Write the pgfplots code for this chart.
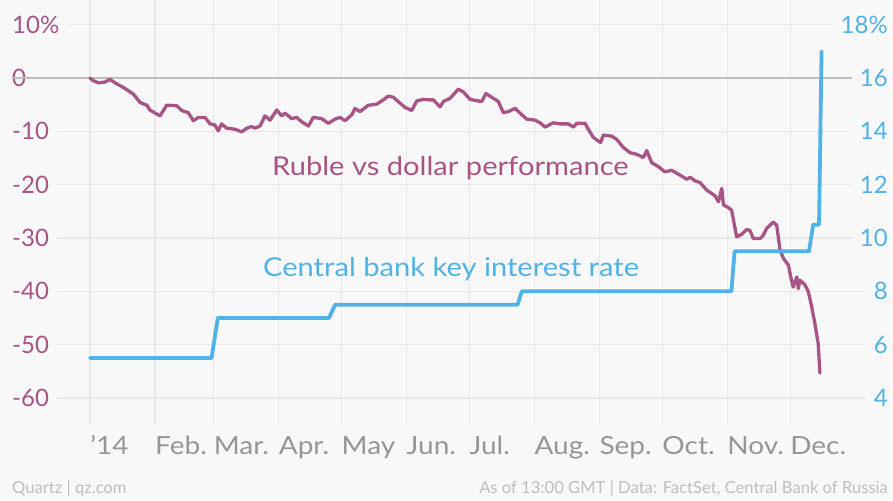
\documentclass[border=0pt]{standalone}
\usepackage{pgfplots}
\pgfplotsset{compat=1.18}
\usepackage{fontspec}
\setmainfont{Lato}
\newfontfamily\wide{Lato}[FakeStretch=1.12]
\definecolor{bg}{RGB}{248,248,248}
\definecolor{ruble}{RGB}{168,84,134}
\definecolor{rate}{RGB}{81,178,229}
\definecolor{gridc}{RGB}{233,233,233}
\definecolor{zeroc}{RGB}{190,190,190}
\definecolor{xlab}{RGB}{150,150,150}
\definecolor{foot}{RGB}{190,190,190}

\pgfplotstableread{
d v
0 0
1.6 -0.5
4.0 -0.9
7.2 -0.75
9.5 -0.25
11.9 -0.9
15.9 -1.75
20.7 -3.0
23.9 -4.6
27.1 -5.1
28.6 -6.0
33.4 -7.1
36.6 -5.1
41.4 -5.2
43.8 -6.1
46.9 -6.5
49.3 -8.0
51.7 -7.4
54.9 -7.4
57.3 -8.6
59.6 -8.8
61.2 -9.9
62.8 -8.6
65.2 -9.4
69.2 -9.6
72.4 -10.1
74.8 -9.4
77.1 -9.1
78.7 -9.4
81.1 -9.0
83.5 -7.1
85.9 -7.9
89.1 -6.0
91.5 -7.1
93.0 -6.6
96.2 -7.6
98.6 -7.4
101.0 -8.2
104.2 -9.0
106.5 -7.4
110.5 -7.6
113.7 -8.5
116.9 -7.7
119.3 -7.4
121.7 -8.0
124.9 -6.9
126.4 -5.7
128.8 -6.3
132.8 -5.1
136.8 -4.9
139.9 -4.1
142.3 -3.4
144.7 -3.6
147.9 -4.7
150.3 -5.5
153.5 -6.1
155.9 -4.3
159.0 -4.0
162.2 -4.1
163.8 -4.1
167.0 -5.4
168.6 -4.4
171.8 -3.8
175.7 -2.1
178.1 -2.6
181.3 -4.0
185.3 -4.3
186.9 -4.4
188.9 -2.9
191.6 -3.6
194.8 -4.4
197.2 -6.5
199.6 -6.3
202.8 -5.7
205.2 -6.6
208.3 -7.7
212.3 -7.9
214.7 -8.4
217.1 -9.2
221.0 -8.4
224.2 -8.6
228.2 -8.6
230.6 -9.2
232.2 -8.5
236.2 -8.5
237.7 -9.6
240.1 -11.1
241.7 -11.6
243.6 -12.1
244.9 -10.7
248.9 -10.9
251.3 -11.5
254.4 -13.0
257.6 -14.0
260.8 -14.3
264.0 -14.9
265.6 -13.6
268.0 -15.9
271.1 -16.6
274.3 -17.6
277.5 -17.3
281.5 -18.2
284.7 -19.0
286.3 -18.6
288.7 -19.3
291.0 -19.6
294.2 -21.0
298.2 -22.1
299.8 -23.2
301.4 -20.7
302.2 -23.8
304.6 -24.3
306.1 -24.8
308.5 -29.8
310.9 -29.3
313.3 -28.4
314.9 -28.6
316.4 -30.1
319.7 -30.1
321.2 -29.5
322.8 -28.2
326.0 -27.0
327.6 -27.6
329.2 -32.3
330.8 -33.8
333.2 -35.1
334.3 -37.3
335.5 -39.2
337.2 -37.3
337.9 -39.5
338.7 -37.9
341.1 -38.8
342.7 -40.1
344.3 -42.9
345.8 -46.0
347.4 -49.8
348.2 -55.3
}\ruble

\pgfplotstableread{
d r
0 5.5
58 5.5
61 7
114 7
117 7.5
204 7.5
206 8
306 8
307.5 9.5
343 9.5
345 10.5
347.8 10.5
349 17
}\rate

\pgfplotstableread{
d z
-37.2 0
380.7 0
}\zero

\begin{document}
\begin{tikzpicture}[x=1pt,y=1pt]
\fill[bg] (0,0) rectangle (893,500);
\path[use as bounding box] (0,0) rectangle (893,500);
\begin{axis}[
  at={(12pt,75pt)}, anchor=south west, scale only axis,
  width=876pt, height=425pt,
  xmin=-37.2, xmax=380.7, ymin=-65.06, ymax=14.63,
  axis line style={draw=none}, major tick length=0pt,
  clip=false,
  xtick={0,31,59,90,120,151,181,212,243,273,304,334},
  xticklabels={’14,Feb.,Mar.,Apr.,May,Jun.,Jul.,Aug.,Sep.,Oct.,Nov.,Dec.},
  xticklabel style={anchor=base west, inner xsep=0pt, yshift=-30pt, font=\wide\fontsize{25}{25}\selectfont, text=xlab},
  ytick={-60,-50,-40,-30,-20,-10,0,10},
  yticklabels={-60,-50,-40,-30,-20,-10,0,10\%},
  yticklabel style={anchor=west, inner xsep=8pt, xshift=-8pt, fill=bg, font=\fontsize{24}{24}\selectfont, text=ruble},
  xmajorgrids, ymajorgrids, grid style={gridc, line width=1.2pt},
]
\addplot[zeroc, line width=1.6pt] table[x=d,y=z] {\zero};
\addplot[ruble, line width=3.3pt, line join=round, line cap=round] table[x=d,y=v] {\ruble};
\node[anchor=base west, inner sep=0pt, text=ruble, font=\wide\fontsize{26}{26}\selectfont] at (axis cs:86.8,-18.2) {Ruble vs dollar performance};
\node[anchor=base west, inner sep=0pt, text=rate, font=\wide\fontsize{26}{26}\selectfont] at (axis cs:82.5,-37.3) {Central bank key interest rate};
\end{axis}
\begin{axis}[
  at={(12pt,75pt)}, anchor=south west, scale only axis,
  width=876pt, height=425pt,
  xmin=-37.2, xmax=380.7, ymin=2.988, ymax=18.926,
  axis line style={draw=none}, major tick length=0pt,
  xtick=\empty,
  ytick={4,6,8,10,12,14,16,18},
  yticklabels={4,6,8,10,12,14,16,18\%},
  yticklabel pos=right,
  yticklabel style={anchor=east, inner xsep=8pt, xshift=8pt, fill=bg, font=\fontsize{24}{24}\selectfont, text=rate},
]
\addplot[rate, line width=3.8pt, line join=round, line cap=round] table[x=d,y=r] {\rate};
\end{axis}
\node[anchor=base west, inner sep=0pt, text=foot, font=\fontsize{16.6}{16.6}\selectfont] at (12,6) {Quartz | qz.com};
\node[anchor=base east, inner sep=0pt, text=foot, font=\fontsize{16.6}{16.6}\selectfont] at (888,6) {As of 13:00 GMT | Data: FactSet, Central Bank of Russia};
\end{tikzpicture}
\end{document}
